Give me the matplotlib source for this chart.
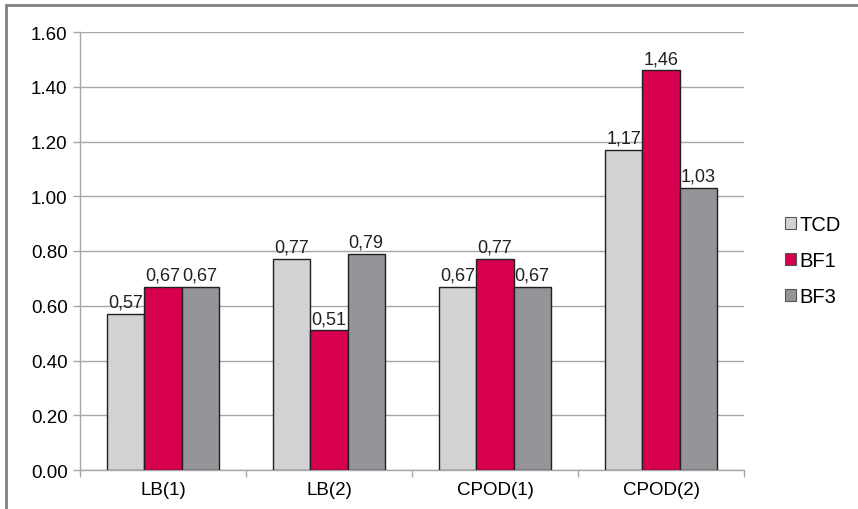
import matplotlib.pyplot as plt
import numpy as np
from matplotlib.patches import Rectangle

plt.rcParams["font.family"] = ["Liberation Sans", "DejaVu Sans"]

categories = ["LB(1)", "LB(2)", "CPOD(1)", "CPOD(2)"]
series_names = ["TCD", "BF1", "BF3"]
tcd = [0.57, 0.77, 0.67, 1.17]
bf1 = [0.67, 0.51, 0.77, 1.46]
bf3 = [0.67, 0.79, 0.67, 1.03]
yticks = [0.0, 0.2, 0.4, 0.6, 0.8, 1.0, 1.2, 1.4, 1.6]

colors = ["#D1D2D4", "#D7004F", "#939598"]
grid_color = "#A6A6A6"

fig = plt.figure(figsize=(8.58, 5.10), dpi=100)
ax = fig.add_axes([80 / 858, 1 - 471 / 510, 664 / 858, 438 / 510])

x = np.arange(len(categories))
width = 0.223
for i, (name, vals) in enumerate(zip(series_names, [tcd, bf1, bf3])):
    pos = x + (i - 1) * width
    bars = ax.bar(pos, vals, width=width, color=colors[i], edgecolor="#231F20",
                  linewidth=1.0, label=name, zorder=3)
    for b, v in zip(bars, vals):
        ax.text(b.get_x() + b.get_width() / 2, v + 0.012, f"{v:.2f}".replace(".", ","),
                ha="center", va="bottom", fontsize=13, color="#231F20", zorder=4)

ax.set_xlim(-0.5, len(categories) - 0.5)
ax.set_ylim(0, 1.6)
ax.set_yticks(yticks)
ax.set_yticklabels([f"{t:.2f}" for t in yticks])
ax.yaxis.grid(True, color=grid_color, linewidth=1.0, zorder=0)
ax.set_axisbelow(True)

# category ticks at the boundaries, labels in the middle
ax.set_xticks(np.arange(len(categories) + 1) - 0.5)
ax.set_xticklabels([])
ax.set_xticks(x, minor=True)
ax.set_xticklabels(categories, minor=True)
ax.tick_params(axis="x", which="minor", length=0, pad=8, labelsize=13.5)
ax.tick_params(axis="x", which="major", length=5, color=grid_color, width=1)
ax.tick_params(axis="y", length=5, color=grid_color, width=1, labelsize=13.5, pad=4)

for side in ["top", "right"]:
    ax.spines[side].set_visible(False)
for side in ["left", "bottom"]:
    ax.spines[side].set_color(grid_color)
    ax.spines[side].set_linewidth(1.0)

leg = ax.legend(loc="center left", bbox_to_anchor=(1.035, 0.478), frameon=False,
                fontsize=14.5, handlelength=0.55, handleheight=0.55, handletextpad=0.15,
                labelspacing=0.85)
for h in leg.legend_handles:
    h.set_linewidth(0.8)
    h.set_edgecolor("#555555")

# outer frame
fig.patches.append(Rectangle((6 / 858, -0.1), 1.2, 1 - 6 / 510 + 0.1,
                             transform=fig.transFigure, fill=False,
                             edgecolor="#808080", linewidth=2))

fig.savefig("out.png", dpi=100)
